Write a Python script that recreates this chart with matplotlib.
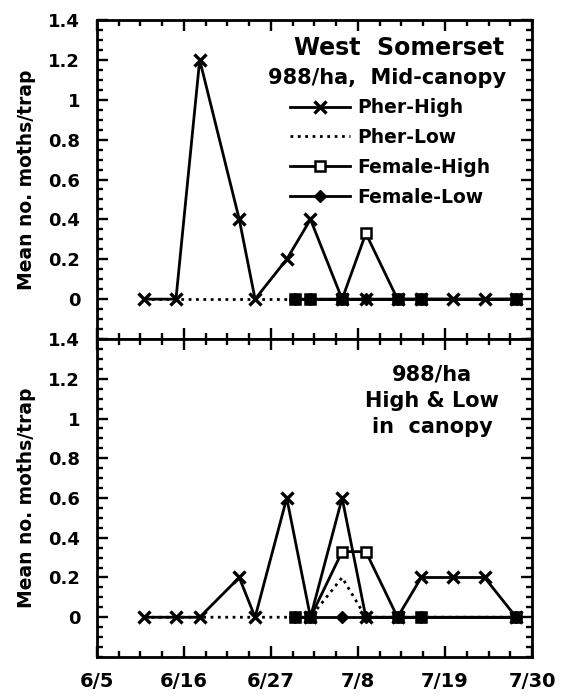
import matplotlib
matplotlib.use("Agg")
import matplotlib.pyplot as plt
from matplotlib.ticker import MultipleLocator

plt.rcParams['font.family'] = ['DejaVu Sans']
plt.rcParams['font.weight'] = 'bold'

# days counted from 6/5
pher_days = [6, 10, 13, 18, 20, 24, 27, 31, 34, 38, 41, 45, 49, 53]
female_days = [25, 27, 31, 34, 38, 41, 53]

# top panel: 988/ha, mid-canopy
top_pher_high = [0, 0, 1.2, 0.4, 0, 0.2, 0.4, 0, 0, 0, 0, 0, 0, 0]
top_pher_low = [0, 0, 0, 0, 0, 0, 0, 0, 0, 0, 0, 0, 0, 0]
top_female_high = [0, 0, 0, 0.33, 0, 0, 0]
top_female_low = [0, 0, 0, 0, 0, 0, 0]

# bottom panel: 988/ha, high & low in canopy
bot_pher_high = [0, 0, 0, 0.2, 0, 0.6, 0, 0.6, 0, 0, 0.2, 0.2, 0.2, 0]
bot_pher_low = [0, 0, 0, 0, 0, 0, 0, 0.2, 0, 0, 0, 0, 0, 0]
bot_female_high = [0, 0, 0.33, 0.33, 0, 0, 0]
bot_female_low = [0, 0, 0, 0, 0, 0, 0]

tick_days = [0, 11, 22, 33, 44, 55]
tick_labels = ["6/5", "6/16", "6/27", "7/8", "7/19", "7/30"]
y_ticks = [0, 0.2, 0.4, 0.6, 0.8, 1, 1.2, 1.4]
y_labels = ["0", "0.2", "0.4", "0.6", "0.8", "1", "1.2", "1.4"]


def draw_panel(ax, ph, pl, fh, fl, show_x):
    ax.plot(pher_days, pl, ls=':', lw=2, color='black', label='Pher-Low', zorder=2)
    ax.plot(female_days, fl, ls='-', lw=2, color='black', marker='D', ms=6,
            mfc='black', label='Female-Low', zorder=3)
    ax.plot(female_days, fh, ls='-', lw=2, color='black', marker='s', ms=7.5,
            mfc='white', mew=1.8, label='Female-High', zorder=3)
    ax.plot(pher_days, ph, ls='-', lw=2, color='black', marker='x', ms=8.5,
            mew=2.4, label='Pher-High', zorder=4)
    # the female markers sitting on zero print as solid squares
    ax.plot(female_days, [v if v == 0 else float('nan') for v in fh], ls='none',
            marker='s', ms=7.5, color='black', zorder=5)

    ax.set_xlim(0, 55)
    ax.set_ylim(-0.2, 1.4)
    ax.set_xticks(tick_days)
    ax.xaxis.set_minor_locator(MultipleLocator(2.75))
    ax.set_yticks(y_ticks)
    ax.set_yticklabels(y_labels)
    ax.yaxis.set_minor_locator(MultipleLocator(0.05))
    if show_x:
        ax.set_xticklabels(tick_labels)
    else:
        ax.set_xticklabels([])
    ax.tick_params(which='both', direction='in', top=True, right=True, width=1.7)
    ax.tick_params(axis='y', which='major', length=8, labelsize=13, pad=12)
    ax.tick_params(axis='x', which='major', length=8, labelsize=14, pad=11)
    ax.tick_params(which='minor', length=4.5)
    for s in ax.spines.values():
        s.set_linewidth(2)
    ax.set_ylabel("Mean no. moths/trap", fontsize=13.5, fontweight='bold', labelpad=9)
    for lab in ax.get_xticklabels() + ax.get_yticklabels():
        lab.set_fontweight('bold')


fig = plt.figure(figsize=(5.63, 6.97), dpi=100)
ax1 = fig.add_axes([0.172, 0.5136, 0.773, 0.4577])
ax2 = fig.add_axes([0.172, 0.0574, 0.773, 0.4562])

draw_panel(ax1, top_pher_high, top_pher_low, top_female_high, top_female_low, False)
draw_panel(ax2, bot_pher_high, bot_pher_low, bot_female_high, bot_female_low, True)

ax1.text(0.937, 0.912, "West  Somerset", transform=ax1.transAxes, ha='right',
         va='center', fontsize=17, fontweight='bold')
ax1.text(0.94, 0.818, "988/ha,  Mid-canopy", transform=ax1.transAxes, ha='right',
         va='center', fontsize=15, fontweight='bold')

handles, labels = ax1.get_legend_handles_labels()
order = ['Pher-High', 'Pher-Low', 'Female-High', 'Female-Low']
hmap = dict(zip(labels, handles))
ax1.legend([hmap[k] for k in order], order, loc='upper left',
           bbox_to_anchor=(0.444, 0.755), frameon=False, numpoints=1,
           handlelength=3.2, handletextpad=0.37, labelspacing=0.58,
           borderpad=0, borderaxespad=0,
           prop={'weight': 'bold', 'size': 13.5})

ax2.text(0.77, 0.805, "988/ha\nHigh & Low\nin  canopy", transform=ax2.transAxes,
         ha='center', va='center', fontsize=15, fontweight='bold', linespacing=1.4)

fig.savefig("out.png", dpi=100)
